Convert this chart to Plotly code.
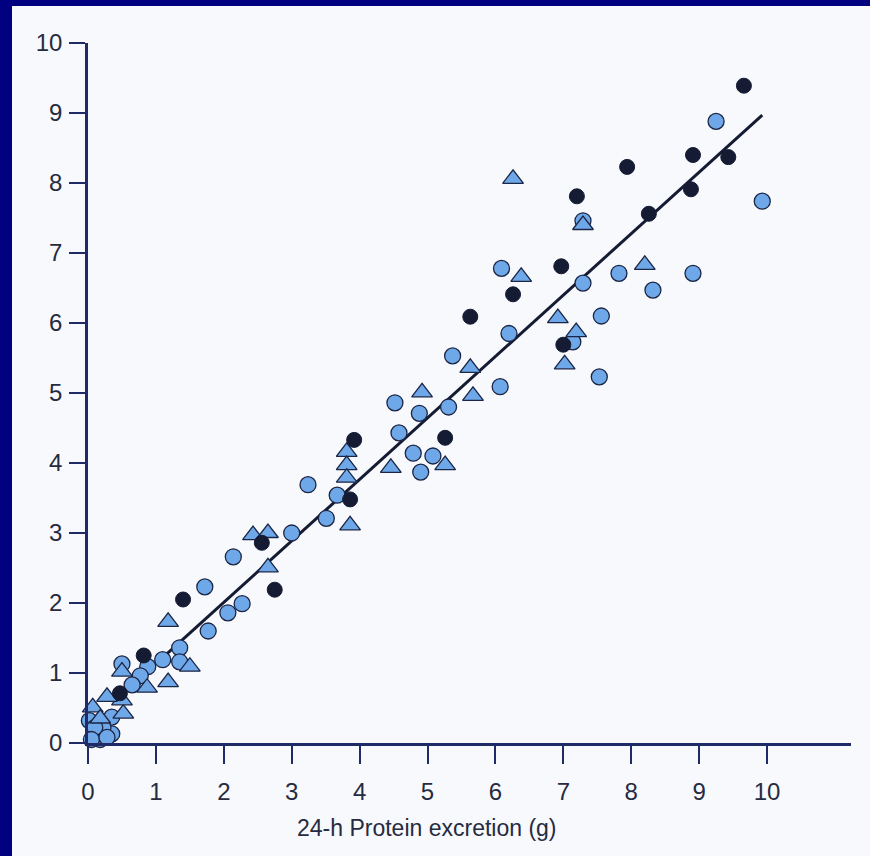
import plotly.graph_objects as go

# Dark filled circles
dark_x = [9.66, 9.43, 8.91, 7.94, 7.20, 8.26, 8.88, 6.97, 6.26, 5.63, 7.00, 5.26, 3.92, 3.86, 2.56, 2.75, 1.40, 0.82, 0.47]
dark_y = [9.39, 8.37, 8.40, 8.23, 7.81, 7.56, 7.91, 6.81, 6.41, 6.09, 5.69, 4.36, 4.33, 3.48, 2.86, 2.19, 2.05, 1.25, 0.71]

# Light blue circles
circ_x = [9.93, 9.25, 8.91, 8.32, 7.82, 7.56, 7.53, 7.29, 7.29, 7.14, 6.09, 6.20, 6.07, 5.37, 5.31, 5.08, 4.90, 4.88,
          4.79, 4.58, 4.52, 3.67, 3.51, 3.24, 3.00, 2.27, 2.14, 2.06, 1.72, 1.77, 1.35, 1.35, 1.10, 0.88, 0.77, 0.65,
          0.50, 0.35, 0.35, 0.02, 0.08, 0.18, 0.22, 0.10, 0.05, 0.28]
circ_y = [7.74, 8.88, 6.71, 6.47, 6.71, 6.10, 5.23, 6.57, 7.46, 5.73, 6.78, 5.85, 5.09, 5.53, 4.80, 4.10, 3.87, 4.71,
          4.14, 4.43, 4.86, 3.54, 3.21, 3.69, 3.00, 1.99, 2.66, 1.86, 2.23, 1.60, 1.36, 1.16, 1.19, 1.09, 0.96, 0.83,
          1.13, 0.37, 0.13, 0.32, 0.10, 0.05, 0.22, 0.22, 0.05, 0.08]

# Light blue triangles
tri_x = [6.26, 7.29, 8.20, 6.38, 6.92, 7.19, 7.02, 5.63, 5.67, 4.92, 5.26, 4.46, 3.81, 3.81, 3.81, 3.86, 2.43, 2.65,
         2.65, 1.18, 1.50, 1.18, 0.87, 0.50, 0.52, 0.50, 0.28, 0.07, 0.18]
tri_y = [8.06, 7.40, 6.83, 6.66, 6.07, 5.87, 5.41, 5.36, 4.96, 5.01, 3.97, 3.93, 4.16, 3.97, 3.79, 3.11, 2.97, 3.00,
         2.51, 1.73, 1.09, 0.87, 0.79, 1.02, 0.42, 0.61, 0.66, 0.51, 0.35]

# Regression line
line_x = [1.10, 9.93]
line_y = [1.22, 8.97]

x_ticks = [0, 1, 2, 3, 4, 5, 6, 7, 8, 9, 10]
y_ticks = [0, 1, 2, 3, 4, 5, 6, 7, 8, 9, 10]
x_title = "24-h Protein excretion (g)"

LIGHT = "#6fa8e8"
EDGE = "#1b2545"
DARK = "#151b33"
AXIS = "#1f2a66"
TEXT = "#262b40"
BG = "#f7f9fc"
NAVY = "#000080"

fig = go.Figure()
fig.add_trace(go.Scatter(x=line_x, y=line_y, mode="lines",
                         line=dict(color=DARK, width=3), hoverinfo="skip"))
fig.add_trace(go.Scatter(x=circ_x, y=circ_y, mode="markers", cliponaxis=False,
                         marker=dict(symbol="circle", size=16, color=LIGHT,
                                     line=dict(color=EDGE, width=1.3))))
fig.add_trace(go.Scatter(x=tri_x, y=tri_y, mode="markers", cliponaxis=False,
                         marker=dict(symbol="triangle-up", size=18, color=LIGHT,
                                     line=dict(color=EDGE, width=1.3))))
fig.add_trace(go.Scatter(x=dark_x, y=dark_y, mode="markers", cliponaxis=False,
                         marker=dict(symbol="circle", size=15, color=DARK,
                                     line=dict(color=DARK, width=1))))

L, R, T, B = 88, 19, 43, 113
W, H = 870, 856
pw, ph = W - L - R, H - T - B
x_max = 763 / 67.9

def px(xp):
    return (xp - L) / pw

def py(yp):
    return (H - B - yp) / ph

shapes = [
    dict(type="rect", xref="paper", yref="paper", x0=px(0), x1=px(12), y0=py(H), y1=py(0),
         fillcolor=NAVY, line=dict(width=0), layer="below"),
    dict(type="rect", xref="paper", yref="paper", x0=px(0), x1=px(W), y0=py(6), y1=py(0),
         fillcolor=NAVY, line=dict(width=0), layer="below"),
]

font = dict(family="Liberation Sans, Arial, sans-serif", color=TEXT, size=24)

fig.update_layout(
    width=W, height=H,
    margin=dict(l=L, r=R, t=T, b=B, pad=0),
    paper_bgcolor=BG, plot_bgcolor=BG,
    showlegend=False,
    font=font,
    shapes=shapes,
    xaxis=dict(range=[0, x_max], tickvals=x_ticks, ticktext=[str(v) for v in x_ticks],
               showgrid=False, zeroline=False, showline=True, linecolor=AXIS, linewidth=2.5,
               ticks="outside", ticklen=18, tickwidth=2, tickcolor=AXIS,
               tickfont=dict(size=24, color=TEXT), ticklabelstandoff=7),
    yaxis=dict(range=[0, 10], tickvals=y_ticks, ticktext=[str(v) for v in y_ticks],
               showgrid=False, zeroline=False, showline=True, linecolor=AXIS, linewidth=2.5,
               ticks="outside", ticklen=16, tickwidth=2, tickcolor=AXIS,
               tickfont=dict(size=24, color=TEXT), ticklabelstandoff=2),
    annotations=[dict(text=x_title, xref="paper", yref="paper", x=px(427), y=py(828),
                      xanchor="center", yanchor="middle", showarrow=False,
                      font=dict(size=23, color=TEXT))],
)

fig.write_html("out.html", config={"displayModeBar": False},
               post_script="document.body.style.margin='0px';document.body.style.overflow='hidden';")
